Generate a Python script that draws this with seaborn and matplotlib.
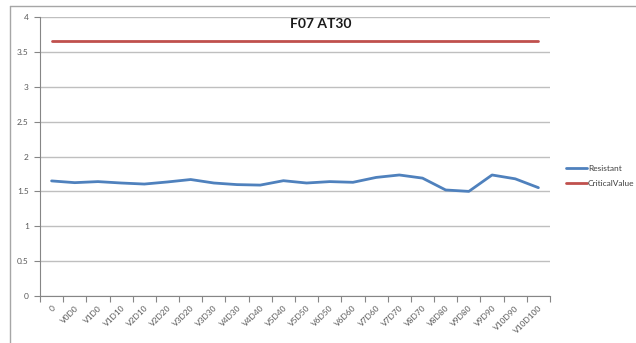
import matplotlib
matplotlib.use("Agg")
import matplotlib.pyplot as plt
from matplotlib.lines import Line2D
import seaborn as sns
import pandas as pd
import numpy as np

categories = ["0", "V0D0", "V1D0", "V1D10", "V2D10", "V2D20", "V3D20", "V3D30",
              "V4D30", "V4D40", "V5D40", "V5D50", "V6D50", "V6D60", "V7D60",
              "V7D70", "V8D70", "V8D80", "V9D80", "V9D90", "V10D90", "V10D100"]
resistant = [1.65, 1.625, 1.64, 1.62, 1.605, 1.635, 1.67, 1.62, 1.597, 1.59,
             1.653, 1.62, 1.64, 1.63, 1.70, 1.735, 1.69, 1.52, 1.50, 1.735,
             1.68, 1.553]
critical_value = [3.65] * len(categories)

sns.set_theme(style="white")
plt.rcParams["font.family"] = ["Lato", "DejaVu Sans"]

df = pd.DataFrame({
    "Category": categories * 2,
    "Value": resistant + critical_value,
    "Series": ["Resistant"] * len(categories) + ["CriticalValue"] * len(categories),
})

fig = plt.figure(figsize=(6.36, 3.43), dpi=100)
ax = fig.add_axes([40 / 636, 1 - 296 / 343, 510 / 636, 279 / 343])

sns.lineplot(data=df, x="Category", y="Value", hue="Series", sort=False,
             palette={"Resistant": "#4F81BD", "CriticalValue": "#C0504D"},
             linewidth=2, ax=ax, legend=False)

n = len(categories)
ax.set_xlim(-0.5, n - 0.5)
ax.set_ylim(0, 4)
ax.set_yticks(np.arange(0, 4.01, 0.5))
ax.set_yticklabels(["0", "0.5", "1", "1.5", "2", "2.5", "3", "3.5", "4"])
ax.yaxis.grid(True, color="#BFBFBF", linewidth=1)
ax.set_axisbelow(True)

# tick marks on category boundaries, labels centred on categories
ax.set_xticks(np.arange(-0.5, n, 1.0))
ax.set_xticklabels([])
ax.set_xticks(np.arange(n), minor=True)
ax.set_xticklabels(categories, minor=True, rotation=45, ha="right",
                   rotation_mode="anchor", fontsize=6, color="#595959")
ax.tick_params(axis="x", which="major", length=4, width=0.8, color="#868686",
               direction="out", bottom=True)
ax.tick_params(axis="x", which="minor", length=0, pad=6)
ax.tick_params(axis="y", length=4, width=0.8, color="#868686", direction="out",
               left=True, labelsize=6, labelcolor="#595959", pad=4)
ax.set_xlabel("")
ax.set_ylabel("")
for side in ["top", "right"]:
    ax.spines[side].set_visible(False)
for side in ["left", "bottom"]:
    ax.spines[side].set_color("#868686")
    ax.spines[side].set_linewidth(0.8)

fig.text(0.505, 1 - 24 / 343, "F07 AT30", ha="center", va="center",
         fontsize=10, fontweight="bold", color="#1a1a1a")

handles = [Line2D([], [], color="#4F81BD", linewidth=2),
           Line2D([], [], color="#C0504D", linewidth=2)]
fig.legend(handles, ["Resistant", "CriticalValue"], loc="center left",
           bbox_to_anchor=(558 / 636, 1 - 176 / 343), frameon=False,
           fontsize=6, handlelength=2.6, handletextpad=0.1, labelspacing=1.0,
           labelcolor="#404040")

# outer chart frame (left and top edges)
fig.add_artist(Line2D([10 / 636, 10 / 636], [0, 1 - 6 / 343],
                      transform=fig.transFigure, color="#A6A6A6", linewidth=1))
fig.add_artist(Line2D([10 / 636, 1], [1 - 6 / 343, 1 - 6 / 343],
                      transform=fig.transFigure, color="#A6A6A6", linewidth=1))

fig.savefig("out.png", dpi=100, facecolor="white")
